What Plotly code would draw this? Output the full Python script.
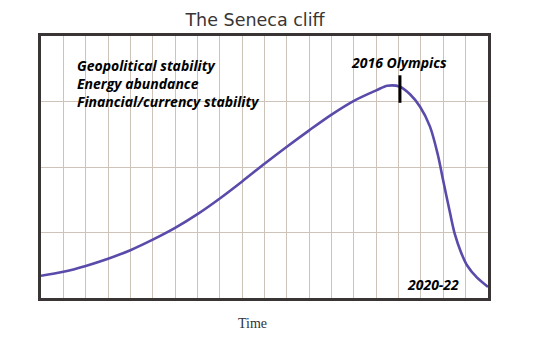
import plotly.graph_objects as go

# Seneca curve: position along the time grid (0-20) and level (0-4)
time_pos = [0, 1, 2, 3, 4, 5, 6, 7, 8, 9, 10, 11, 12, 13, 14, 15, 15.5,
            16.06, 16.51, 16.96, 17.40, 17.76, 17.99, 18.30, 18.52, 18.79,
            19.06, 19.51, 20.0]
level = [0.34, 0.40, 0.49, 0.60, 0.73, 0.89, 1.07, 1.28, 1.52, 1.78, 2.05,
         2.31, 2.56, 2.80, 3.01, 3.17, 3.24,
         3.225, 3.11, 2.92, 2.62, 2.18, 1.80, 1.30, 0.97, 0.70,
         0.50, 0.31, 0.17]

# Olympics marker on the curve
olympics_x = 16.06
olympics_span = [2.98, 3.40]

stability_lines = ["Geopolitical stability", "Energy abundance",
                   "Financial/currency stability"]

fig = go.Figure()
fig.add_trace(go.Scatter(
    x=time_pos, y=level, mode="lines",
    line=dict(color="#5a4bab", width=2.6, shape="spline", smoothing=0.9),
    hoverinfo="skip", showlegend=False,
))
fig.add_trace(go.Scatter(
    x=[olympics_x, olympics_x], y=olympics_span, mode="lines",
    line=dict(color="#000000", width=3),
    hoverinfo="skip", showlegend=False,
))

txt_font = dict(family="Open Sans, DejaVu Sans", size=14, color="#000000",
                weight="bold", style="italic")

fig.add_annotation(
    x=1.5, y=3.27, xref="x", yref="y", xanchor="left", yanchor="middle",
    text="<br>".join(stability_lines), showarrow=False, align="left",
    font=txt_font,
)
fig.add_annotation(
    x=olympics_x - 0.05, y=3.60, xref="x", yref="y", xanchor="center",
    yanchor="middle", text="2016 Olympics", showarrow=False, font=txt_font,
)
fig.add_annotation(
    x=17.52, y=0.21, xref="x", yref="y", xanchor="center", yanchor="middle",
    text="2020-22", showarrow=False, font=txt_font,
)
fig.add_annotation(
    x=(252 - 41) / 447, y=-25 / 262, xref="paper", yref="paper",
    xanchor="center", yanchor="middle", text="Time", showarrow=False,
    font=dict(family="Liberation Serif", size=14, color="#333333"),
)

fig.update_layout(
    width=539, height=348,
    margin=dict(l=41, r=51, t=36, b=50),
    paper_bgcolor="#ffffff", plot_bgcolor="#ffffff",
    title=dict(
        text="The Seneca cliff", x=255 / 539, xanchor="center",
        y=1 - 20 / 348, yanchor="middle",
        font=dict(family="DejaVu Sans", size=17.5, color="#3a3535"),
    ),
)
fig.update_xaxes(
    range=[0, 20], dtick=1, showgrid=True, gridcolor="#cdc3b8", gridwidth=1,
    showline=True, linecolor="#3a3535", linewidth=2.5, mirror=True,
    showticklabels=False, ticks="", zeroline=False, fixedrange=True,
)
fig.update_yaxes(
    range=[0, 4], dtick=1, showgrid=True, gridcolor="#cdc3b8", gridwidth=1,
    showline=True, linecolor="#3a3535", linewidth=2.5, mirror=True,
    showticklabels=False, ticks="", zeroline=False, fixedrange=True,
)

fig.write_html("out.html", config={"displayModeBar": False})
